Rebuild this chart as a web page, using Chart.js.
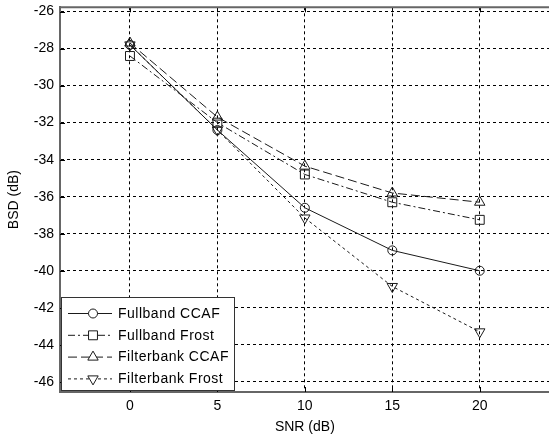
<!DOCTYPE html>
<html>
<head>
<meta charset="utf-8">
<script src="https://cdn.jsdelivr.net/npm/chart.js@4/dist/chart.umd.min.js"></script>
<style>
  body { margin: 0; background: #fff; overflow: hidden; }
  #wrap { width: 549px; height: 439px; overflow: hidden; }
</style>
</head>
<body>
<div id="wrap"><canvas id="bsdChart" width="557" height="439"></canvas></div>
<script>
// SNR points and BSD values
const snr = [0, 5, 10, 15, 20];
const fullbandCCAF = [-27.8, -32.4, -36.6, -38.9, -40.0];
const fullbandFrost = [-28.4, -32.0, -34.8, -36.3, -37.25];
const filterbankCCAF = [-27.7, -31.7, -34.35, -35.8, -36.3];
const filterbankFrost = [-27.8, -32.4, -37.15, -40.85, -43.3];

const xTicks = [0, 5, 10, 15, 20];
const yTicks = [-26, -28, -30, -32, -34, -36, -38, -40, -42, -44, -46];
const seriesNames = ["Fullband CCAF", "Fullband Frost", "Filterbank CCAF", "Filterbank Frost"];

const FONT = "'Liberation Sans', Arial, sans-serif";

function pts(vals) {
    return snr.map((x, i) => ({ x: x, y: vals[i] }));
}

function makeSet(label, vals, style, radius, rotation, dash) {
    return {
        label: label,
        data: pts(vals),
        borderColor: "#1a1a1a",
        backgroundColor: "rgba(0,0,0,0)",
        borderWidth: 1,
        borderDash: dash,
        pointStyle: style,
        pointRadius: radius,
        pointRotation: rotation,
        pointBorderColor: "#1a1a1a",
        pointBackgroundColor: "rgba(0,0,0,0)",
        pointBorderWidth: 1,
        tension: 0
    };
}

// frame, inward ticks and the legend box inside the plot
const framePlugin = {
    id: "frame",
    beforeDatasetsDraw(chart) {
        const ctx = chart.ctx;
        const a = chart.chartArea;
        const xs = chart.scales.x, ys = chart.scales.y;
        ctx.save();
        ctx.strokeStyle = "#000";
        ctx.lineWidth = 1;
        ctx.beginPath();
        xTicks.forEach(v => {
            const px = Math.round(xs.getPixelForValue(v)) + 0.5;
            ctx.moveTo(px, a.bottom); ctx.lineTo(px, a.bottom - 5);
            ctx.moveTo(px, a.top); ctx.lineTo(px, a.top + 5);
        });
        yTicks.forEach(v => {
            const py = Math.round(ys.getPixelForValue(v)) + 0.5;
            ctx.moveTo(a.left, py); ctx.lineTo(a.left + 5, py);
        });
        ctx.stroke();
        ctx.strokeStyle = "#666";
        ctx.lineWidth = 2;
        ctx.beginPath();
        ctx.moveTo(a.left, a.top);
        ctx.lineTo(a.right + 2, a.top);
        ctx.stroke();
        ctx.restore();
    },
    afterDatasetsDraw(chart) {
        const ctx = chart.ctx;
        const a = chart.chartArea;
        const bx = a.left + 1, by = 297, bw = 173, bh = a.bottom - 297 - 2;
        ctx.save();
        ctx.fillStyle = "#fff";
        ctx.fillRect(bx, by, bw, bh);
        ctx.strokeStyle = "#333";
        ctx.lineWidth = 1;
        ctx.strokeRect(bx + 0.5, by + 0.5, bw, bh);
        chart.data.datasets.forEach((ds, i) => {
            const y = 313.5 + i * 21.8;
            ctx.strokeStyle = ds.borderColor;
            ctx.lineWidth = 1;
            ctx.setLineDash(ds.borderDash || []);
            ctx.beginPath();
            ctx.moveTo(bx + 7, y);
            ctx.lineTo(bx + 51, y);
            ctx.stroke();
            ctx.setLineDash([]);
            ctx.fillStyle = "#fff";
            Chart.helpers.drawPoint(ctx, {
                pointStyle: ds.pointStyle,
                radius: ds.pointRadius,
                rotation: ds.pointRotation,
                borderWidth: 1
            }, bx + 32, y);
            ctx.fillStyle = "#000";
            ctx.font = "14px " + FONT;
            ctx.letterSpacing = "0.5px";
            ctx.textBaseline = "middle";
            ctx.textAlign = "left";
            ctx.fillText(ds.label, bx + 57, y + 0.5);
        });
        ctx.restore();
    }
};

new Chart(document.getElementById("bsdChart"), {
    type: "line",
    data: {
        datasets: [
            makeSet(seriesNames[0], fullbandCCAF, "circle", 4.5, 0, []),
            makeSet(seriesNames[1], fullbandFrost, "rect", 6.3, 0, [7, 3, 2, 3]),
            makeSet(seriesNames[2], filterbankCCAF, "triangle", 6, 0, [9, 4]),
            makeSet(seriesNames[3], filterbankFrost, "triangle", 6, 180, [3, 3])
        ]
    },
    options: {
        responsive: false,
        animation: false,
        events: [],
        layout: { padding: { top: 5, right: 1, left: 0, bottom: 0 } },
        plugins: {
            legend: { display: false },
            tooltip: { enabled: false }
        },
        scales: {
            x: {
                type: "linear",
                min: -4,
                max: 24,
                afterBuildTicks: s => { s.ticks = xTicks.map(v => ({ value: v })); },
                afterFit: s => { s.height = 47; s.paddingLeft = 0; s.paddingRight = 0; },
                grid: { color: "#000", lineWidth: 1, drawTicks: false },
                border: { display: true, color: "#666", width: 2, dash: [3, 3] },
                ticks: { color: "#000", font: { family: FONT, size: 14 }, padding: 6, maxRotation: 0 },
                title: { display: true, text: "SNR (dB)", color: "#000", font: { family: FONT, size: 14 }, padding: { top: 0, bottom: 3 } }
            },
            y: {
                type: "linear",
                min: -46.55,
                max: -25.77,
                afterBuildTicks: s => { s.ticks = yTicks.map(v => ({ value: v })); },
                afterFit: s => { s.width = 60; s.paddingTop = 0; s.paddingBottom = 0; },
                grid: { color: "#000", lineWidth: 1, drawTicks: false },
                border: { display: true, color: "#666", width: 2, dash: [3, 3] },
                ticks: { color: "#000", font: { family: FONT, size: 14 }, padding: 6 },
                title: { display: true, text: "BSD (dB)", color: "#000", font: { family: FONT, size: 14 }, padding: { top: 6, bottom: 0 } }
            }
        }
    },
    plugins: [framePlugin]
});
</script>
</body>
</html>
